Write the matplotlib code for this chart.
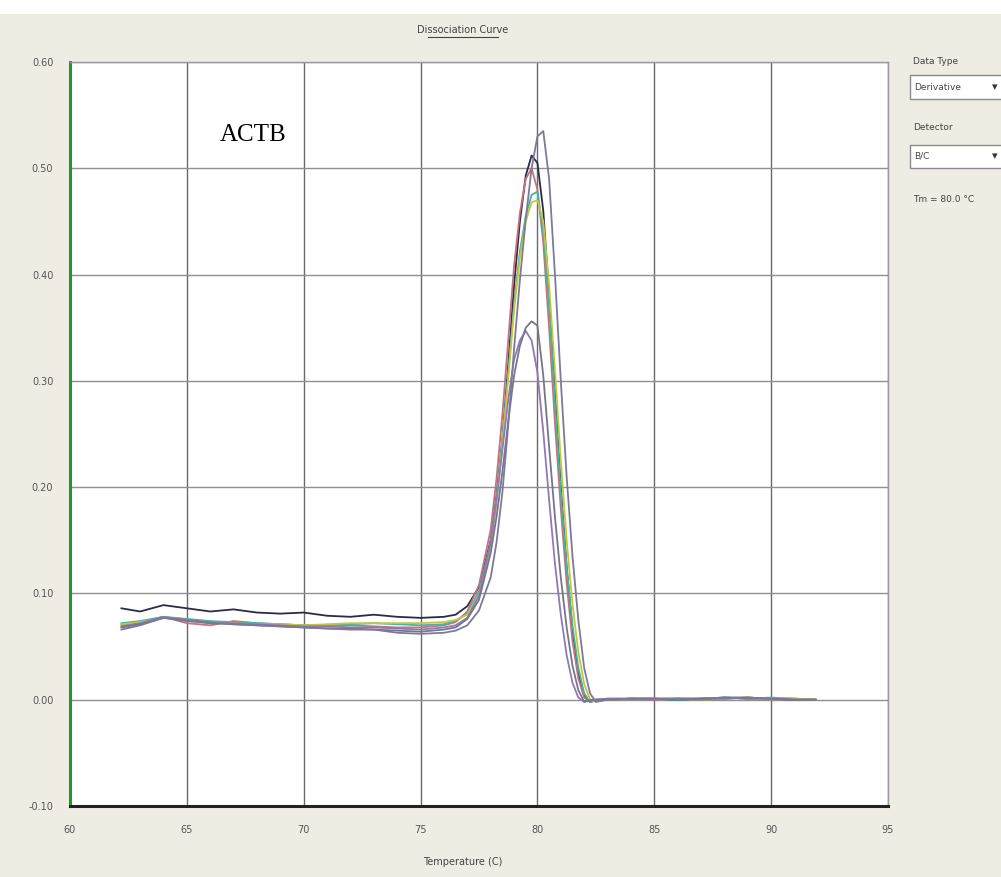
import matplotlib
matplotlib.use("Agg")
import matplotlib.pyplot as plt
from matplotlib.lines import Line2D
from matplotlib.patches import Rectangle

# temperature grid (C)
temps = [62.2, 63, 64, 65, 66, 67, 68, 69, 70, 71, 72, 73, 74, 75, 76,
         76.5, 77, 77.5, 78, 78.25, 78.5, 78.75, 79, 79.25, 79.5, 79.75,
         80, 80.25, 80.5, 80.75, 81, 81.25, 81.5, 81.75, 82, 82.25, 82.5,
         83, 84, 85, 86, 87, 88, 89, 90, 91, 91.9]

# derivative readings per well
navy = [0.086, 0.083, 0.089, 0.086, 0.083, 0.085, 0.082, 0.081, 0.082, 0.079, 0.078, 0.080, 0.078, 0.077, 0.078,
        0.080, 0.088, 0.106, 0.150, 0.192, 0.245, 0.315, 0.390, 0.450, 0.493, 0.512,
        0.505, 0.460, 0.380, 0.290, 0.200, 0.125, 0.065, 0.025, 0.004, -0.002, -0.001,
        0.000, 0.001, 0.001, 0.000, 0.001, 0.002, 0.002, 0.001, 0.000, 0.000]
gray_tall = [0.066, 0.070, 0.077, 0.075, 0.073, 0.071, 0.070, 0.069, 0.068, 0.067, 0.066, 0.066, 0.063, 0.062, 0.063,
             0.065, 0.070, 0.084, 0.115, 0.148, 0.195, 0.258, 0.330, 0.395, 0.452, 0.500,
             0.530, 0.535, 0.490, 0.400, 0.300, 0.210, 0.135, 0.075, 0.030, 0.006, -0.002,
             0.000, 0.001, 0.001, 0.001, 0.000, 0.002, 0.001, 0.001, 0.000, 0.000]
pink = [0.070, 0.073, 0.078, 0.072, 0.070, 0.074, 0.072, 0.071, 0.070, 0.069, 0.070, 0.069, 0.068, 0.068, 0.070,
        0.073, 0.083, 0.108, 0.160, 0.208, 0.268, 0.338, 0.408, 0.458, 0.490, 0.500,
        0.480, 0.430, 0.350, 0.260, 0.180, 0.110, 0.055, 0.020, 0.002, -0.002, 0.000,
        0.000, 0.001, 0.000, 0.001, 0.001, 0.001, 0.002, 0.001, 0.001, 0.000]
teal = [0.072, 0.074, 0.078, 0.076, 0.074, 0.073, 0.072, 0.071, 0.070, 0.070, 0.071, 0.072, 0.071, 0.070, 0.071,
        0.074, 0.081, 0.102, 0.148, 0.190, 0.245, 0.308, 0.372, 0.422, 0.455, 0.475,
        0.478, 0.440, 0.370, 0.280, 0.195, 0.125, 0.070, 0.030, 0.006, -0.002, 0.000,
        0.001, 0.001, 0.001, 0.000, 0.001, 0.002, 0.001, 0.002, 0.001, 0.000]
yellow = [0.071, 0.073, 0.077, 0.075, 0.073, 0.072, 0.071, 0.071, 0.070, 0.071, 0.072, 0.072, 0.072, 0.072, 0.073,
          0.075, 0.080, 0.099, 0.143, 0.185, 0.240, 0.302, 0.366, 0.416, 0.450, 0.468,
          0.470, 0.450, 0.390, 0.310, 0.225, 0.150, 0.090, 0.045, 0.015, 0.000, -0.002,
          0.000, 0.001, 0.001, 0.001, 0.000, 0.001, 0.002, 0.001, 0.001, 0.000]
gray_small = [0.068, 0.071, 0.077, 0.074, 0.072, 0.071, 0.070, 0.069, 0.068, 0.067, 0.067, 0.066, 0.065, 0.064, 0.066,
              0.068, 0.076, 0.094, 0.138, 0.172, 0.214, 0.262, 0.305, 0.333, 0.350, 0.356,
              0.352, 0.305, 0.238, 0.172, 0.115, 0.068, 0.032, 0.009, -0.002, -0.001, 0.000,
              0.000, 0.001, 0.001, 0.001, 0.001, 0.001, 0.002, 0.001, 0.000, 0.000]
purple_small = [0.069, 0.072, 0.078, 0.075, 0.072, 0.072, 0.071, 0.070, 0.069, 0.069, 0.068, 0.068, 0.067, 0.066, 0.068,
                0.070, 0.077, 0.098, 0.148, 0.188, 0.235, 0.282, 0.320, 0.338, 0.347, 0.338,
                0.308, 0.252, 0.188, 0.128, 0.080, 0.042, 0.016, 0.002, -0.002, 0.000, 0.000,
                0.001, 0.001, 0.000, 0.001, 0.001, 0.002, 0.001, 0.001, 0.000, 0.000]

curves = [
    (navy, "#2b2b48"),
    (pink, "#c8707e"),
    (teal, "#3fb7a3"),
    (yellow, "#c9c43c"),
    (purple_small, "#9079b8"),
    (gray_small, "#76768a"),
    (gray_tall, "#7d7a98"),
]

x_ticks = [60, 65, 70, 75, 80, 85, 90, 95]
y_ticks = [-0.10, 0.00, 0.10, 0.20, 0.30, 0.40, 0.50, 0.60]

small = ["Liberation Sans Narrow", "DejaVu Sans"]
bg = "#efece3"

fig = plt.figure(figsize=(10.01, 8.77), dpi=100, facecolor=bg)
W, H = 1001, 877

# white strip along the top edge
fig.add_artist(Rectangle((0, 1 - 14 / H), 1, 14 / H, transform=fig.transFigure,
                         facecolor="white", edgecolor="none"))

ax = fig.add_axes([70 / W, (H - 806) / H, (888 - 70) / W, (806 - 62) / H])
ax.set_facecolor("white")

for vals, col in curves:
    ax.plot(temps, vals, color=col, lw=1.3)

ax.set_xlim(60, 95)
ax.set_ylim(-0.10, 0.60)
ax.set_xticks(x_ticks)
ax.set_yticks(y_ticks)
ax.set_xticklabels([str(t) for t in x_ticks], family=small, fontsize=7, color="#555555")
ax.set_yticklabels([f"{t:.2f}" for t in y_ticks], family=small, fontsize=7, color="#555555")
ax.tick_params(length=0, pad=14)
ax.tick_params(axis="y", pad=12)
ax.grid(True, axis="y", color="#8f8f8f", lw=1.0)
ax.grid(True, axis="x", color="#6a6a6a", lw=1.0)
ax.set_axisbelow(True)

ax.spines["left"].set_color("#1f9a2a")
ax.spines["left"].set_linewidth(2.2)
ax.spines["bottom"].set_color("#222222")
ax.spines["bottom"].set_linewidth(2.2)
for s in ("top", "right"):
    ax.spines[s].set_color("#9a9a9a")
    ax.spines[s].set_linewidth(1.0)

ax.text(66.4, 0.526, "ACTB", family="Liberation Serif", fontsize=18, va="baseline", ha="left")

# chart title with underline
fig.text(463 / W, 1 - 30 / H, "Dissociation Curve", family=small, fontsize=7,
         color="#444444", ha="center", va="center")
fig.add_artist(Line2D([428 / W, 498 / W], [1 - 37 / H, 1 - 37 / H], color="#444444", lw=0.8))

fig.text(463 / W, 1 - 862 / H, "Temperature (C)", family=small, fontsize=7,
         color="#444444", ha="center", va="center")

# side panel
fig.text(913 / W, 1 - 61 / H, "Data Type", family=small, fontsize=6.5, color="#444444", va="center")
fig.add_artist(Rectangle((910 / W, 1 - 99 / H), 95 / W, 24 / H, transform=fig.transFigure,
                         facecolor="white", edgecolor="#8a8a8a", lw=1))
fig.text(914 / W, 1 - 87 / H, "Derivative", family=small, fontsize=6.5, color="#444444", va="center")
fig.text(995 / W, 1 - 87 / H, "\u25be", fontsize=8, color="#333333", va="center", ha="center")

fig.text(913 / W, 1 - 127 / H, "Detector", family=small, fontsize=6.5, color="#444444", va="center")
fig.add_artist(Rectangle((910 / W, 1 - 168 / H), 95 / W, 23 / H, transform=fig.transFigure,
                         facecolor="white", edgecolor="#8a8a8a", lw=1))
fig.text(914 / W, 1 - 156 / H, "B/C", family=small, fontsize=6.5, color="#444444", va="center")
fig.text(995 / W, 1 - 156 / H, "\u25be", fontsize=8, color="#333333", va="center", ha="center")

fig.text(913 / W, 1 - 199 / H, "Tm = 80.0 \u00b0C", family=small, fontsize=6.5, color="#444444", va="center")

fig.savefig("out.png", dpi=100, facecolor=bg)
